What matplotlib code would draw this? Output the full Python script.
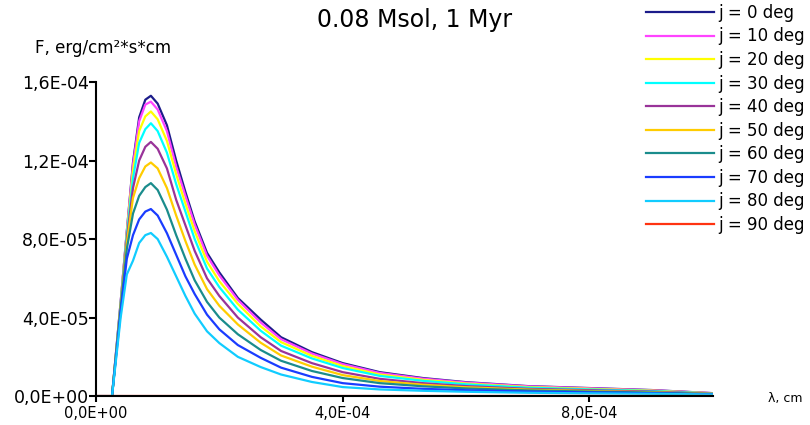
import matplotlib
matplotlib.use("Agg")
import numpy as np
from matplotlib import pyplot as plt
from matplotlib.ticker import FuncFormatter

# wavelength grid, units of 1e-5 cm
lam = [0, 2.6, 4, 5, 6, 7, 8, 8.9, 10, 11.5, 13, 14.5, 16, 18, 20, 23, 26.7, 30, 35, 40, 46, 53, 60, 70, 80, 90, 100]

# flux, units of 1e-5 erg/cm2*s*cm
f_j0 = [0, 0, 4.8, 8.4, 11.9, 14.2, 15.1, 15.3, 14.9, 13.8, 12.0, 10.4, 8.9, 7.3, 6.3, 5.0, 3.9, 3.0, 2.24, 1.68, 1.22, 0.92, 0.71, 0.51, 0.41, 0.31, 0.15]
f_j10 = [0, 0, 4.8, 8.4, 11.8, 14.0, 14.85, 15.0, 14.6, 13.5, 11.7, 10.2, 8.75, 7.15, 6.15, 4.9, 3.75, 2.9, 2.17, 1.63, 1.18, 0.89, 0.69, 0.50, 0.40, 0.30, 0.15]
f_j20 = [0, 0, 4.7, 8.3, 11.5, 13.5, 14.25, 14.5, 14.1, 13.0, 11.3, 9.8, 8.4, 6.85, 5.85, 4.7, 3.55, 2.75, 2.05, 1.53, 1.1, 0.83, 0.64, 0.46, 0.37, 0.28, 0.14]
f_j30 = [0, 0, 4.7, 8.2, 11.1, 12.9, 13.6, 13.9, 13.5, 12.4, 10.8, 9.4, 8.0, 6.5, 5.55, 4.4, 3.33, 2.57, 1.92, 1.43, 1.03, 0.78, 0.6, 0.43, 0.34, 0.26, 0.13]
f_j40 = [0, 0, 4.6, 8.0, 10.6, 12.0, 12.7, 12.95, 12.6, 11.6, 10.0, 8.7, 7.4, 6.0, 5.1, 4.0, 3.0, 2.3, 1.68, 1.22, 0.88, 0.66, 0.51, 0.37, 0.3, 0.23, 0.12]
f_j50 = [0, 0, 4.6, 7.8, 10.1, 11.1, 11.7, 11.9, 11.6, 10.6, 9.2, 7.9, 6.7, 5.45, 4.6, 3.65, 2.72, 2.07, 1.5, 1.07, 0.77, 0.58, 0.45, 0.33, 0.26, 0.2, 0.11]
f_j60 = [0, 0, 4.5, 7.5, 9.3, 10.2, 10.65, 10.85, 10.5, 9.5, 8.2, 7.0, 5.9, 4.8, 4.0, 3.15, 2.35, 1.8, 1.28, 0.92, 0.66, 0.5, 0.39, 0.29, 0.23, 0.18, 0.1]
f_j70 = [0, 0, 4.3, 7.0, 8.2, 9.0, 9.4, 9.53, 9.2, 8.3, 7.2, 6.1, 5.2, 4.15, 3.4, 2.6, 1.95, 1.45, 0.98, 0.66, 0.48, 0.37, 0.3, 0.23, 0.19, 0.15, 0.09]
f_j80 = [0, 0, 4.0, 6.2, 6.9, 7.8, 8.2, 8.31, 8.0, 7.1, 6.1, 5.1, 4.2, 3.3, 2.7, 2.0, 1.48, 1.1, 0.72, 0.46, 0.34, 0.27, 0.22, 0.17, 0.14, 0.12, 0.08]
f_j90 = [0] * len(lam)

labels = ["j = 0 deg", "j = 10 deg", "j = 20 deg", "j = 30 deg", "j = 40 deg",
          "j = 50 deg", "j = 60 deg", "j = 70 deg", "j = 80 deg", "j = 90 deg"]
colors = ["#1c1c8a", "#ff44ff", "#ffff00", "#00ffff", "#993399",
          "#ffcc00", "#1a8c8c", "#1a3cff", "#11ccff", "#ff3311"]
series = [f_j0, f_j10, f_j20, f_j30, f_j40, f_j50, f_j60, f_j70, f_j80, f_j90]


def sci_comma(v, pos):
    return f"{v:.1E}".replace(".", ",")


fig = plt.figure(figsize=(8.1, 4.25), dpi=100)
ax = fig.add_axes([0.1185, 0.068, 0.7615, 0.739])

x = np.array(lam) * 1e-5
for ys, c, lab in zip(series, colors, labels):
    ax.plot(x, np.array(ys) * 1e-5, color=c, lw=1.6, label=lab)

ax.set_xlim(0, 1.0e-3)
ax.set_ylim(0, 1.6e-4)
ax.set_xticks([0, 4e-4, 8e-4])
ax.set_yticks([0, 4e-5, 8e-5, 1.2e-4, 1.6e-4])
ax.xaxis.set_major_formatter(FuncFormatter(sci_comma))
ax.yaxis.set_major_formatter(FuncFormatter(sci_comma))
ax.tick_params(axis="x", labelsize=10.5, length=4, width=1.5, pad=3)
ax.tick_params(axis="y", labelsize=12.5, length=5, width=1.5, pad=0)
for s in ["top", "right"]:
    ax.spines[s].set_visible(False)
for s in ["left", "bottom"]:
    ax.spines[s].set_linewidth(1.5)

fig.text(0.512, 0.953, "0.08 Msol, 1 Myr", ha="center", va="center", fontsize=17)
fig.text(0.043, 0.888, "F, erg/cm²*s*cm", ha="left", va="center", fontsize=12)
fig.text(0.948, 0.062, "λ, cm", ha="left", va="center", fontsize=9)

fig.legend(loc="upper left", bbox_to_anchor=(0.795, 0.995), frameon=False,
           fontsize=12, handlelength=4.1, handletextpad=0.25,
           labelspacing=0.335, borderpad=0.1, borderaxespad=0)

fig.savefig("out.png", dpi=100)
